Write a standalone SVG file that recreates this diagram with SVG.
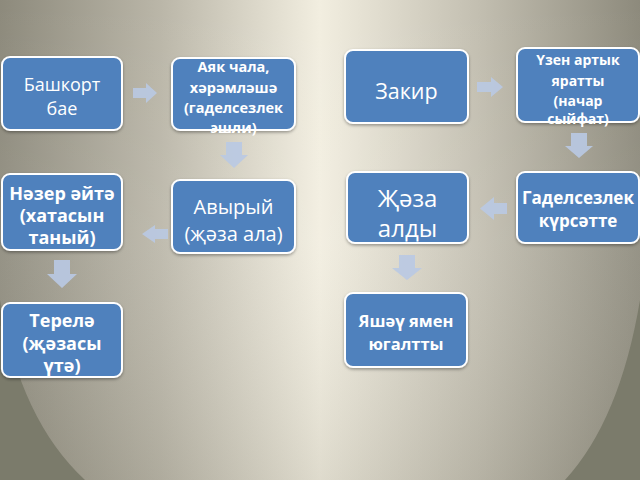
<svg xmlns="http://www.w3.org/2000/svg" width="640" height="480" viewBox="0 0 640 480">
<defs>
<linearGradient id="bg" x1="0" y1="0" x2="1" y2="0">
<stop offset="0" stop-color="#8d8a7c"/>
<stop offset="0.25" stop-color="#bab6a8"/>
<stop offset="0.5" stop-color="#f2eee0"/>
<stop offset="0.75" stop-color="#c2beb0"/>
<stop offset="1" stop-color="#8d8a7c"/>
</linearGradient>
<linearGradient id="vg" x1="0" y1="0" x2="0" y2="1">
<stop offset="0" stop-color="#ffffff" stop-opacity="0"/>
<stop offset="0.5" stop-color="#ffffff" stop-opacity="0.08"/>
<stop offset="1" stop-color="#6f6d60" stop-opacity="0.15"/>
</linearGradient>
<filter id="sh" x="-10%" y="-10%" width="120%" height="130%">
<feDropShadow dx="0" dy="1.5" stdDeviation="1.5" flood-color="#000" flood-opacity="0.35"/>
</filter>
</defs>
<style>
.box{fill:#4f81bd;stroke:#ffffff;stroke-width:2;filter:url(#sh)}
.arr{fill:#b9c9e3;opacity:0.9}
text{fill:#ffffff;font-family:"Open Sans","Liberation Sans",sans-serif;text-anchor:middle;dominant-baseline:central}
.r{font-weight:400}
.b{font-weight:700}
</style>
<rect x="0" y="0" width="640" height="480" fill="url(#bg)"/>
<rect x="0" y="0" width="640" height="480" fill="url(#vg)"/>
<path d="M0,300 Q20,420 85,480 L0,480 Z" fill="#7b7b6b"/>
<path d="M640,300 Q620,420 565,480 L640,480 Z" fill="#7b7b6b"/>

<g id="connectors">
<path class="arr" d="M133,88 H146 V83 L157,93 L146,103 V98 H133 Z"/>
<path class="arr" d="M226,142 H242 V155 H248 L234,168 L220,155 H226 Z"/>
<path class="arr" d="M168,229 H155 V225 L142,234 L155,243 V239 H168 Z"/>
<path class="arr" d="M54,260 H70 V274 H77 L62,288 L47,274 H54 Z"/>
<path class="arr" d="M477,82 H491 V77 L503,87 L491,97 V92 H477 Z"/>
<path class="arr" d="M571,133 H587 V146 H593 L579,158 L565,146 H571 Z"/>
<path class="arr" d="M507,203 H494 V197 L480,208.5 L494,220 V214 H507 Z"/>
<path class="arr" d="M399,255 H415 V268 H422 L407,280 L392,268 H399 Z"/>
</g>

<g id="n1"><rect class="box" x="2" y="57" width="120" height="73" rx="8"/>
<text class="r" x="62" y="84" font-size="18">Башкорт</text><text class="r" x="62" y="108" font-size="18">бае</text></g>

<g id="n2"><rect class="box" x="172" y="58" width="123" height="72" rx="8"/>
<text class="b" x="233.5" y="66" font-size="14.5">Аяк чала,</text>
<text class="b" x="233.5" y="87" font-size="14.5">хәрәмләшә</text>
<text class="b" x="233.5" y="107" font-size="14.5">(гаделсезлек</text>
<text class="b" x="233.5" y="127" font-size="14.5">эшли)</text></g>

<g id="n3"><rect class="box" x="172" y="180" width="123" height="73" rx="8"/>
<text class="r" x="233.5" y="206" font-size="20">Авырый</text>
<text class="r" x="233.5" y="233" font-size="20">(җәза ала)</text></g>

<g id="n4"><rect class="box" x="2" y="174" width="120" height="76" rx="8"/>
<text class="b" x="62" y="193" font-size="18">Нәзер әйтә</text>
<text class="b" x="62" y="215" font-size="18">(хатасын</text>
<text class="b" x="62" y="237" font-size="18">таный)</text></g>

<g id="n5"><rect class="box" x="2" y="303" width="120" height="74" rx="8"/>
<text class="b" x="62" y="320" font-size="18">Терелә</text>
<text class="b" x="62" y="343" font-size="18">(җәзасы</text>
<text class="b" x="62" y="365" font-size="18">үтә)</text></g>

<g id="n6"><rect class="box" x="345" y="50" width="123" height="73" rx="8"/>
<text class="r" x="406.5" y="90" font-size="21.5">Закир</text></g>

<g id="n7"><rect class="box" x="517" y="48" width="122" height="74" rx="8"/>
<text class="b" x="578" y="59" font-size="14">Үзен артык</text>
<text class="b" x="578" y="80" font-size="14">яратты</text>
<text class="b" x="578" y="100" font-size="14">(начар</text>
<text class="b" x="578" y="118" font-size="14">сыйфат)</text></g>

<g id="n8"><rect class="box" x="517" y="172" width="122" height="71" rx="8"/>
<text class="b" x="578" y="197" font-size="17">Гаделсезлек</text>
<text class="b" x="578" y="220" font-size="17">күрсәтте</text></g>

<g id="n9"><rect class="box" x="347" y="172" width="121" height="71" rx="8"/>
<text class="r" x="407.5" y="197" font-size="24">Җәза</text>
<text class="r" x="407.5" y="227" font-size="24">алды</text></g>

<g id="n10"><rect class="box" x="345" y="293" width="122" height="74" rx="8"/>
<text class="b" x="406" y="320" font-size="16.5">Яшәү ямен</text>
<text class="b" x="406" y="343" font-size="16.5">югалтты</text></g>
</svg>
